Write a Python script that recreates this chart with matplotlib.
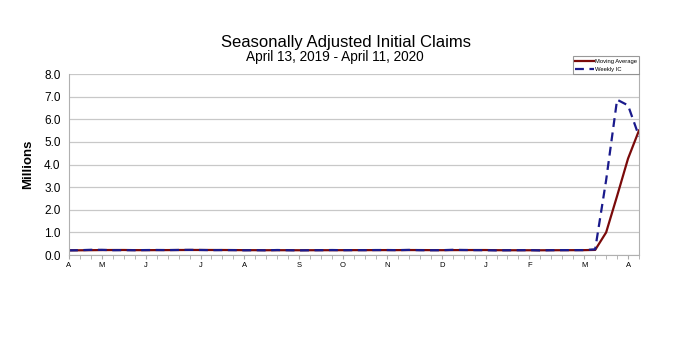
import numpy as np
import matplotlib
matplotlib.use("Agg")
import matplotlib.pyplot as plt

plt.rcParams['font.family'] = ['Liberation Sans', 'DejaVu Sans']

# weekly data, April 13 2019 - April 11 2020 (millions)
weekly_ic = [0.204, 0.212, 0.230, 0.228, 0.212, 0.215, 0.211, 0.218, 0.222, 0.217,
             0.223, 0.227, 0.222, 0.214, 0.218, 0.216, 0.208, 0.213, 0.206, 0.220,
             0.211, 0.204, 0.210, 0.213, 0.220, 0.212, 0.215, 0.214, 0.219, 0.219,
             0.214, 0.225, 0.213, 0.210, 0.212, 0.230, 0.221, 0.215, 0.212, 0.204,
             0.210, 0.212, 0.216, 0.202, 0.213, 0.215, 0.216, 0.217, 0.251, 3.307,
             6.867, 6.615, 5.245]
moving_avg = [0.207, 0.208, 0.213, 0.218, 0.220, 0.221, 0.215, 0.214, 0.216, 0.217,
              0.220, 0.222, 0.222, 0.221, 0.220, 0.218, 0.214, 0.213, 0.211, 0.212,
              0.212, 0.210, 0.211, 0.212, 0.212, 0.214, 0.215, 0.215, 0.216, 0.217,
              0.216, 0.219, 0.218, 0.215, 0.213, 0.216, 0.218, 0.219, 0.219, 0.213,
              0.210, 0.210, 0.210, 0.209, 0.211, 0.212, 0.214, 0.215, 0.225, 0.998,
              2.608, 4.265, 5.508]
month_pos = [0, 3, 7, 12, 16, 21, 25, 29, 34, 38, 42, 47, 51]
month_lbl = ['A', 'M', 'J', 'J', 'A', 'S', 'O', 'N', 'D', 'J', 'F', 'M', 'A']
yticks = [0, 1, 2, 3, 4, 5, 6, 7, 8]

x = np.arange(len(weekly_ic))

fig = plt.figure(figsize=(6.83, 3.51), dpi=100)
ax = fig.add_axes([0.101, 0.2735, 0.8346, 0.5155])

ax.plot(x, moving_avg, color='#7a0a0a', lw=1.6, label='Moving Average')
ax.plot(x, weekly_ic, color='#1a1a8c', lw=1.6, ls=(0, (4, 2.5)), label='Weekly IC')

ax.set_xlim(0, len(x) - 1)
ax.set_ylim(0, 8)
ax.set_yticks(yticks)
ax.set_yticklabels(['%.1f' % v for v in yticks], fontsize=8.5)
ax.set_xticks(month_pos)
ax.set_xticklabels(month_lbl, fontsize=5.5)
ax.set_xticks(x, minor=True)
ax.tick_params(axis='x', which='both', length=3, color='#aaaaaa', direction='out', pad=2)
ax.tick_params(axis='y', length=0, pad=6)
ax.grid(axis='y', color='#c8c8c8', lw=0.9)
ax.set_axisbelow(True)
for s in ['left', 'right', 'bottom']:
    ax.spines[s].set_color('#b0b0b0')
ax.spines['top'].set_visible(False)

ax.set_ylabel('Millions', fontsize=9.5, fontweight='bold', labelpad=7)

fig.text(0.507, 0.866, 'Seasonally Adjusted Initial Claims', ha='center', fontsize=12)
fig.text(0.49, 0.826, 'April 13, 2019 - April 11, 2020', ha='center', fontsize=9.8)

leg = ax.legend(loc='lower right', bbox_to_anchor=(1.0, 1.0), fontsize=4.2, frameon=True,
                fancybox=False, borderpad=0.4, handlelength=3.2, handletextpad=0.2,
                labelspacing=0.5, borderaxespad=0)
leg.get_frame().set_edgecolor('#808080')
leg.get_frame().set_linewidth(0.8)

fig.savefig('out.png', dpi=100)
